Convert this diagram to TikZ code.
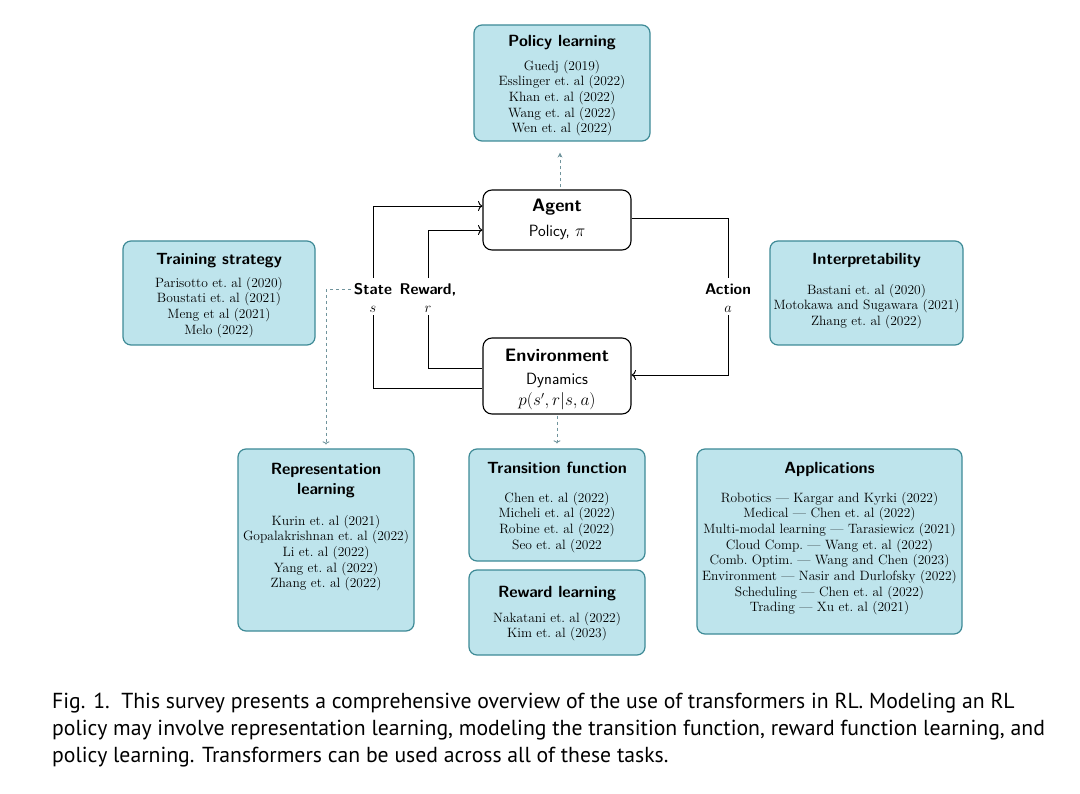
\documentclass[tikz,border=0pt]{standalone}
\usepackage{fontspec}
\newfontfamily\capfont{PT Sans}
\usetikzlibrary{arrows.meta}
\definecolor{boxfill}{RGB}{190,228,236}
\definecolor{boxborder}{RGB}{62,138,150}
\definecolor{dashcol}{RGB}{112,148,156}
\tikzset{
  box/.style={draw=boxborder, fill=boxfill, rounded corners=8pt, line width=1.2pt, inner sep=0pt},
  core/.style={draw=black, fill=white, rounded corners=9pt, line width=1.1pt, inner sep=0pt},
  ttl/.style={font=\sffamily\bfseries\fontsize{16.2}{20}\selectfont, inner sep=0pt, align=center},
  refs/.style={font=\frenchspacing\fontsize{13.5}{15.65}\selectfont, inner sep=0pt, align=center},
  bigttl/.style={font=\sffamily\bfseries\fontsize{18}{21}\selectfont, inner sep=0pt},
  sub/.style={font=\sffamily\fontsize{16.3}{18}\selectfont, inner sep=0pt},
  lbl/.style={font=\sffamily\bfseries\fontsize{15.5}{18}\selectfont, inner xsep=3pt, inner ysep=6pt},
  var/.style={font=\fontsize{15.5}{18}\selectfont, inner sep=2pt},
  flow/.style={line width=0.95pt, draw=black},
  flowarr/.style={flow, -{To[length=4.5pt,width=10pt]}},
  dashlink/.style={draw=dashcol, line width=0.9pt, dash pattern=on 3pt off 3pt},
}
\begin{document}
\begin{tikzpicture}[x=1pt,y=-1pt]
\useasboundingbox (0,0) rectangle (1080,794);
% ---- boxes ----
\node[box, minimum width=176pt, minimum height=116pt] (polbox) at (562,83) {};
\node[ttl, anchor=base] (poltitle) at (562,47) {Policy learning};
\node[refs, anchor=north] (polrefs) at (562,59.9) {Guedj (2019)\\Esslinger et. al (2022)\\Khan et. al (2022)\\Wang et. al (2022)\\Wen et. al (2022)};

\node[box, minimum width=192pt, minimum height=104pt] (trbox) at (219,293) {};
\node[ttl, anchor=base] (trtitle) at (219,265) {Training strategy};
\node[refs, anchor=north] (trrefs) at (219,276.9) {Parisotto et. al (2020)\\Boustati et. al (2021)\\Meng et al (2021)\\Melo (2022)};

\node[box, minimum width=193pt, minimum height=104pt] (intbox) at (866.5,293) {};
\node[ttl, anchor=base] (inttitle) at (866.5,265) {Interpretability};
\node[refs, anchor=north] (intrefs) at (866.5,283.9) {Bastani et. al (2020)\\Motokawa and Sugawara (2021)\\Zhang et. al (2022)};

\node[box, minimum width=176pt, minimum height=182pt] (repbox) at (326,540) {};
\node[ttl, anchor=north] (reptitle) at (326,462.8) {Representation\\learning};
\node[refs, anchor=north] (reprefs) at (326,514.9) {Kurin et. al (2021)\\Gopalakrishnan et. al (2022)\\Li et. al (2022)\\Yang et. al (2022)\\Zhang et. al (2022)};

\node[box, minimum width=176pt, minimum height=112pt] (transbox) at (557,505) {};
\node[ttl, anchor=base] (transtitle) at (557,474) {Transition function};
\node[refs, anchor=north] (transrefs) at (557,491.9) {Chen et. al (2022)\\Micheli et. al (2022)\\Robine et. al (2022)\\Seo et. al (2022};

\node[box, minimum width=176pt, minimum height=85pt] (rewbox) at (557,612.5) {};
\node[ttl, anchor=base] (rewtitle) at (557,597) {Reward learning};
\node[refs, anchor=north] (rewrefs) at (557,611.9) {Nakatani et. al (2022)\\Kim et. al (2023)};

\node[box, minimum width=265pt, minimum height=185pt] (appbox) at (829.5,541.5) {};
\node[ttl, anchor=base] (apptitle) at (829.5,474) {Applications};
\node[refs, anchor=north] (apprefs) at (829.5,491.9) {Robotics --- Kargar and Kyrki (2022)\\Medical --- Chen et. al (2022)\\Multi-modal learning --- Tarasiewicz (2021)\\Cloud Comp. --- Wang et. al (2022)\\Comb. Optim. --- Wang and Chen (2023)\\Environment --- Nasir and Durlofsky (2022)\\Scheduling --- Chen et. al (2022)\\Trading --- Xu et. al (2021)};

% ---- agent / environment ----
\node[core, minimum width=148pt, minimum height=60pt] (agent) at (557,220) {};
\node[bigttl, anchor=base] (agenttitle) at (557,212) {Agent};
\node[sub, anchor=base] (agentsub) at (557,237) {Policy, $\pi$};

\node[core, minimum width=148pt, minimum height=76pt] (env) at (557,376) {};
\node[bigttl, anchor=base] (envtitle) at (557,362) {Environment};
\node[sub, anchor=base] (envsub) at (557,385) {Dynamics};
\node[sub, anchor=base] (envfun) at (557,406) {$p(s',r|s,a)$};

% ---- labels ----
\node[lbl, anchor=base] (stateL) at (373,295) {State};
\node[var, anchor=base] (stateV) at (373,313) {$s$};
\node[lbl, anchor=base] (rewL) at (428,295) {Reward,};
\node[var, anchor=base] (rewV) at (428,313) {$r$};
\node[lbl, anchor=base] (actL) at (728,295) {Action};
\node[var, anchor=base] (actV) at (728,313) {$a$};

% ---- flows ----
\draw[flowarr] (stateL.north) |- ([yshift=14pt]agent.west);
\draw[flow] (stateV.south) |- ([yshift=-12pt]env.west);
\draw[flowarr] (rewL.north) |- ([yshift=-10pt]agent.west);
\draw[flow] (rewV.south) |- ([yshift=8pt]env.west);
\draw[flow] ([yshift=2pt]agent.east) -| (actL.north);
\draw[flowarr] (actV.south) |- ([yshift=1pt]env.east);

% ---- dashed links ----
\draw[dashlink, -{Stealth[length=5pt,width=5pt]}, shorten <=2pt, shorten >=11pt] ([xshift=3pt]agent.north) -- ([xshift=3pt]agent.north |- polbox.south);
\draw[dashlink, -{To[length=3pt,width=7pt]}, shorten >=4pt] (stateL.west) -| (repbox.north);
\draw[dashlink, -{To[length=3pt,width=7pt]}, shorten <=1pt, shorten >=5pt] (env.south) -- (transbox.north);

% ---- caption ----
\node[font=\capfont\fontsize{21.7}{27}\selectfont, anchor=base west, align=left, inner sep=0pt] (caption) at (52,762)
{Fig. 1.\ \ This survey presents a comprehensive overview of the use of transformers in RL. Modeling an RL\\policy may involve representation learning, modeling the transition function, reward function learning, and\\policy learning. Transformers can be used across all of these tasks.};
\end{tikzpicture}
\end{document}
